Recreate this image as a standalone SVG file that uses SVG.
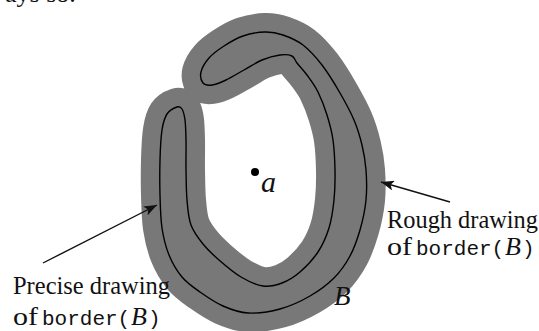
<svg xmlns="http://www.w3.org/2000/svg" xmlns:xlink="http://www.w3.org/1999/xlink" width="539" height="331" viewBox="0 0 539 331">
<style>
.band{fill:#787878;stroke:#787878;stroke-width:38;stroke-linejoin:round}
.border{fill:none;stroke:#000;stroke-width:1.4}
.arrow{stroke:#111;stroke-width:1.4;fill:none;marker-end:url(#ah)}
</style>
<defs>
<marker id="ah" markerUnits="userSpaceOnUse" markerWidth="14" markerHeight="10" refX="13" refY="5" orient="auto">
<path d="M0,0 L13,5 L0,10 L3,5 Z" fill="#111"/>
</marker>
<path id="curve" d="M177,107 C174.5,107.8 169.5,110.2 167,114 S163.2,122.3 162,130 S160.3,149.2 160,160 S159.7,183.7 160,195 S160.5,218 162,228 S165.7,246.8 169,255 S176.8,270.8 182,277 S193.2,287.2 200,292 S215,302.5 223,306 S238.5,312.5 248,313 S269.7,311.8 280,309 S301,301.2 310,296 S327.3,284.7 334,278 S345.7,264 350,256 S357.3,239.3 360,230 S365,210 366,200 S366.7,179.2 366,170 S364,153.3 362,145 S357.7,128.7 354,120 S345.3,102.2 340,93 S328.2,73 322,65 S309.5,50 303,45 S289.3,37.2 283,35 S271.7,31.8 265,32 S249.8,33.7 243,36 S229.7,42.3 224,46 S212.8,53.7 209,58 S202,67.8 201,72 S201.2,80.8 203,83 S208.2,85.5 212,85 S220.7,82.5 226,80 S238,73.3 244,70 S256,62.5 262,60 S275,55.7 280,55 S289.2,54.7 292,56 S294.5,59.8 297,63 S303.5,70.2 307,75 S314.7,85.3 318,92 S324.5,107 327,115 S331.7,130.8 333,140 S334.8,160 335,170 S335,190.3 334,200 S331.7,219.3 329,228 S322.8,244.7 318,252 S306,266.8 300,272 S288.2,280.7 282,283 S269.8,287 263,286 S248.3,281.3 241,277 S225.3,265.5 219,260 S207.7,249.8 203,244 S193.7,232.3 191,225 S187.8,209.2 187,200 S186.2,180 186,170 S186.2,148.3 186,140 S185.7,125.2 185,120 S183.3,111.2 182,109 S179.5,106.2 177,107 Z"/>
</defs>
<rect width="539" height="331" fill="#fff"/>
<g font-family="Liberation Serif, Times New Roman, serif" font-size="26" fill="#111">
<text x="5" y="2">ays so.</text>
</g>
<g id="regionB">
<use xlink:href="#curve" href="#curve" class="band"/>
</g>
<g id="border">
<use xlink:href="#curve" href="#curve" class="border"/>
</g>
<g id="pointA" font-family="Liberation Serif, Times New Roman, serif" fill="#111">
<circle cx="255" cy="172" r="4" fill="#000"/>
<text x="261" y="192" font-size="30" font-style="italic">a</text>
</g>
<g id="labelB" font-family="Liberation Serif, Times New Roman, serif" fill="#111">
<text x="334" y="305" font-size="27" font-style="italic">B</text>
</g>
<g id="connectors">
<line class="arrow" x1="450" y1="202" x2="381" y2="182"/>
<line class="arrow" x1="43" y1="263" x2="157" y2="205"/>
</g>
<g id="roughLabel" font-family="Liberation Serif, Times New Roman, serif" font-size="26" fill="#111">
<text x="387" y="228" textLength="151" lengthAdjust="spacingAndGlyphs">Rough drawing</text>
<text y="255"><tspan x="387" textLength="25" lengthAdjust="spacingAndGlyphs">of</tspan><tspan x="416" font-family="Liberation Mono, Courier New, monospace" font-size="21">border(</tspan><tspan x="505" font-style="italic">B</tspan><tspan x="522" font-family="Liberation Mono, Courier New, monospace" font-size="21">)</tspan></text>
</g>
<g id="preciseLabel" font-family="Liberation Serif, Times New Roman, serif" font-size="26" fill="#111">
<text x="13" y="294" textLength="157" lengthAdjust="spacingAndGlyphs">Precise drawing</text>
<text y="325"><tspan x="13" textLength="25" lengthAdjust="spacingAndGlyphs">of</tspan><tspan x="42" font-family="Liberation Mono, Courier New, monospace" font-size="21">border(</tspan><tspan x="131" font-style="italic">B</tspan><tspan x="148" font-family="Liberation Mono, Courier New, monospace" font-size="21">)</tspan></text>
</g>
</svg>
